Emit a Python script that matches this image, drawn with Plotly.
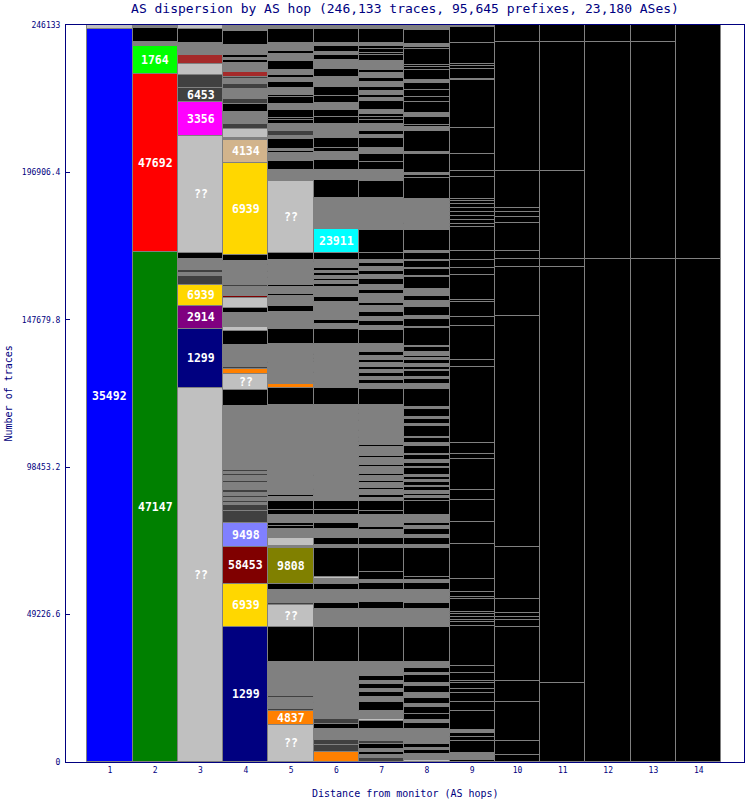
import plotly.graph_objects as go

# ---------------- data ----------------
TITLE = "AS dispersion by AS hop (246,133 traces, 95,645 prefixes, 23,180 ASes)"
X_TITLE = "Distance from monitor (AS hops)"
Y_TITLE = "Number of traces"
TOTAL_TRACES = 246133
Y_TICK_VALUES = [0, 49226.6, 98453.2, 147679.8, 196906.4, 246133]
Y_TICK_TEXT = ["0", "49226.6", "98453.2", "147679.8", "196906.4", "246133"]
HOPS = list(range(1, 15))

# segments per hop, bottom to top: (traces, AS / class)
# K = no further hop, G = other AS, D = other AS (dark), B = other AS (brown), ?? = unknown
HOP_1 = [(244800, "35492"), (1333, "??")]
HOP_2 = [(170240, "47147"), (59450, "47692"), (9550, "1764"), (1140, "G"), (4680, "K"),
         (500, "47147"), (600, "G")]
HOP_3 = [(124820, "??"), (19900, "1299"), (7680, "2914"), (7010, "6939"), (3010, "D"), (900, "G"),
         (835, "D"), (3740, "G"), (2200, "K"), (38940, "??"), (11360, "3356"), (4680, "6453"),
         (4480, "D"), (3670, "??"), (2870, "B"), (1240, "G"), (570, "D"), (1200, "G"), (1140, "G"),
         (4680, "K"), (1250, "??")]
HOP_4 = [(45190, "1299"), (14260, "6939"), (12460, "58453"), (7820, "9498"), (4210, "D"), (1900, "D"),
         (670, "G"), (770, "D"), (1000, "G"), (700, "D"), (1000, "G"), (1000, "D"), (800, "G"), (500, "D"),
         (800, "G"), (600, "D"), (700, "G"), (500, "D"), (800, "G"), (500, "D"), (700, "G"), (500, "D"),
         (1880, "G"), (19470, "G"), (5580, "K"), (5210, "??"), (1800, "4837"), (600, "D"), (600, "G"),
         (400, "D"), (600, "G"), (400, "D"), (5190, "G"), (4880, "K"), (1340, "??"), (4580, "G"),
         (1770, "K"), (3340, "??"), (470, "58453"), (3100, "G"), (570, "D"), (3100, "G"), (330, "??"),
         (4580, "G"), (2200, "K"), (30830, "6939"), (7450, "4134"), (900, "G"), (3010, "??"), (1440, "D"),
         (4140, "G"), (2540, "K"), (1670, "D"), (900, "G"), (330, "??"), (2100, "G"), (1670, "D"),
         (330, "G"), (330, "??"), (1240, "G"), (570, "D"), (1770, "B"), (3000, "G"), (1000, "K"),
         (670, "G"), (1000, "K"), (670, "G"), (230, "??"), (1200, "G"), (1140, "G"), (4680, "K"),
         (1500, "G")]
HOP_5 = [(12460, "??"), (4680, "4837"), (600, "D"), (900, "G"), (500, "D"), (800, "G"), (600, "D"),
         (900, "G"), (500, "D"), (1000, "G"), (400, "D"), (2050, "G"), (8110, "G"), (11690, "K"),
         (7350, "??"), (400, "D"), (4510, "G"), (2000, "K"), (12120, "9808"), (570, "G"), (2770, "??"),
         (2800, "G"), (1100, "K"), (900, "K"), (2770, "G"), (1670, "K"), (3100, "K"), (1400, "G"),
         (400, "K"), (4800, "G"), (330, "D"), (25050, "G"), (5580, "K"), (1500, "4837"), (300, "G"),
         (1440, "G"), (330, "D"), (1340, "G"), (330, "D"), (3340, "G"), (330, "K"), (5910, "G"),
         (4880, "K"), (5910, "G"), (1770, "K"), (400, "58453"), (3170, "G"), (500, "K"), (330, "9808"),
         (2170, "G"), (500, "K"), (2500, "G"), (330, "K"), (1670, "G"), (330, "K"), (1770, "G"),
         (330, "K"), (1470, "G"), (2200, "K"), (24150, "??"), (3570, "G"), (3100, "K"), (2670, "G"),
         (670, "K"), (770, "G"), (3340, "K"), (900, "G"), (1670, "D"), (2240, "G"), (1440, "K"),
         (770, "K"), (2470, "K"), (2200, "G"), (2240, "K"), (670, "K"), (2440, "G"), (1900, "K"),
         (1340, "G"), (900, "K"), (1770, "G"), (3000, "K"), (2240, "G"), (1100, "K"), (1440, "G"),
         (1140, "G"), (4680, "K"), (1500, "G")]
HOP_6 = [(3440, "4837"), (2240, "D"), (1670, "D"), (3570, "G"), (1670, "K"), (1670, "D"), (430, "G"),
         (430, "??"), (2570, "G"), (330, "D"), (1670, "G"), (330, "D"), (1670, "G"), (330, "D"),
         (1100, "G"), (10350, "G"), (11690, "K"), (1670, "G"), (4240, "G"), (1900, "K"), (4440, "G"),
         (2000, "K"), (1670, "G"), (670, "??"), (9790, "K"), (900, "G"), (2340, "K"), (2900, "G"),
         (2000, "K"), (2770, "G"), (1670, "K"), (3100, "K"), (1900, "G"), (330, "K"), (1500, "G"),
         (330, "K"), (4170, "G"), (330, "K"), (23380, "G"), (5580, "K"), (2200, "G"), (330, "K"),
         (2570, "G"), (430, "K"), (3240, "G"), (330, "K"), (770, "G"), (470, "K"), (770, "G"), (330, "K"),
         (3570, "G"), (4880, "K"), (1570, "G"), (1570, "K"), (4780, "G"), (330, "9808"), (670, "G"),
         (1770, "K"), (3340, "G"), (900, "K"), (1000, "G"), (670, "K"), (1000, "G"), (1000, "K"),
         (670, "G"), (1000, "K"), (2000, "G"), (430, "K"), (470, "G"), (2340, "K"), (7780, "23911"),
         (10450, "G"), (5910, "K"), (3570, "G"), (3100, "K"), (2670, "G"), (1440, "K"), (3340, "K"),
         (1240, "G"), (330, "??"), (3240, "G"), (2100, "K"), (2570, "K"), (2200, "G"), (2240, "K"),
         (3100, "K"), (3240, "G"), (2670, "K"), (3000, "G"), (1670, "K"), (1000, "G"), (2100, "K"),
         (1140, "G"), (4680, "K"), (1500, "G")]
HOP_7 = [(1300, "D"), (1000, "G"), (1000, "K"), (1000, "G"), (1700, "K"), (1000, "D"), (4000, "G"),
         (2700, "K"), (500, "??"), (3000, "G"), (2700, "K"), (1700, "G"), (1700, "K"), (1000, "G"),
         (1700, "K"), (1000, "G"), (1700, "K"), (1000, "G"), (3700, "G"), (11690, "K"), (1670, "G"),
         (4240, "G"), (2440, "K"), (3900, "G"), (2340, "K"), (1000, "G"), (2670, "K"), (8110, "K"),
         (900, "G"), (2340, "K"), (2900, "G"), (770, "K"), (1240, "G"), (2770, "G"), (1340, "K"),
         (3440, "K"), (1100, "G"), (780, "K"), (1670, "G"), (890, "K"), (1560, "G"), (670, "K"),
         (1560, "G"), (670, "K"), (2450, "G"), (560, "K"), (2560, "G"), (450, "K"), (3120, "G"),
         (560, "K"), (1000, "G"), (450, "K"), (1000, "G"), (330, "K"), (1890, "G"), (330, "K"),
         (3120, "G"), (450, "K"), (2000, "G"), (330, "K"), (1000, "G"), (330, "K"), (1110, "G"),
         (5560, "K"), (1670, "G"), (1340, "K"), (780, "G"), (1340, "K"), (1110, "G"), (1000, "K"),
         (1340, "G"), (900, "K"), (1340, "G"), (1340, "K"), (2700, "G"), (4880, "K"), (1340, "G"),
         (1560, "K"), (1340, "G"), (1560, "K"), (2000, "G"), (1000, "K"), (3100, "G"), (1340, "K"),
         (1780, "G"), (2000, "K"), (1330, "G"), (1340, "K"), (1330, "G"), (1340, "K"), (1000, "G"),
         (2240, "K"), (7780, "K"), (10450, "G"), (5910, "K"), (3570, "G"), (2670, "K"), (2670, "K"),
         (1870, "G"), (3340, "K"), (1240, "G"), (1340, "K"), (2240, "G"), (1440, "K"), (1000, "K"),
         (1000, "K"), (1340, "G"), (3000, "K"), (1000, "G"), (1000, "K"), (1340, "G"), (1100, "K"),
         (1900, "G"), (1340, "K"), (1670, "G"), (1000, "K"), (3000, "G"), (2000, "K"), (670, "K"),
         (1340, "K"), (770, "K"), (1140, "G"), (4680, "K"), (1500, "G")]
HOP_8 = [(670, "??"), (2000, "G"), (1340, "K"), (670, "G"), (1340, "K"), (1000, "G"), (3900, "G"),
         (2000, "K"), (1000, "G"), (2000, "K"), (2340, "K"), (1000, "G"), (2000, "K"), (1670, "G"),
         (2340, "K"), (1000, "G"), (2670, "K"), (670, "G"), (1670, "K"), (2200, "G"), (11690, "K"),
         (1670, "G"), (4240, "G"), (1900, "K"), (4440, "G"), (2340, "K"), (1000, "G"), (1000, "K"),
         (9770, "K"), (900, "G"), (2340, "K"), (1000, "G"), (1900, "K"), (1000, "G"), (1000, "K"),
         (2770, "G"), (4770, "K"), (890, "K"), (780, "G"), (780, "K"), (890, "G"), (1340, "K"),
         (330, "G"), (1450, "K"), (450, "G"), (1110, "K"), (670, "G"), (2230, "K"), (450, "G"),
         (1220, "K"), (1110, "G"), (1670, "K"), (450, "G"), (2560, "K"), (1110, "G"), (1450, "K"),
         (450, "G"), (3670, "K"), (560, "G"), (1670, "K"), (780, "G"), (2560, "K"), (560, "G"),
         (6120, "K"), (1670, "G"), (1670, "K"), (780, "G"), (1780, "K"), (450, "G"), (890, "K"),
         (1110, "G"), (1340, "K"), (670, "G"), (780, "K"), (1110, "G"), (1670, "K"), (560, "G"),
         (5900, "K"), (450, "G"), (2560, "K"), (1110, "G"), (3000, "K"), (2000, "G"), (1670, "K"),
         (2230, "G"), (3900, "K"), (560, "G"), (2230, "K"), (330, "G"), (2230, "K"), (450, "G"),
         (2230, "K"), (780, "G"), (7000, "K"), (1890, "G"), (560, "K"), (7790, "G"), (7230, "K"),
         (890, "K"), (780, "G"), (6120, "K"), (780, "G"), (7000, "K"), (1340, "G"), (670, "K"),
         (2670, "K"), (1450, "G"), (3560, "K"), (1670, "K"), (2230, "K"), (2560, "K"), (780, "G"),
         (3450, "K"), (220, "G"), (890, "K"), (780, "K"), (5340, "K"), (560, "K"), (1110, "G"),
         (4680, "K"), (1550, "G")]
HOP_9 = [(670, "K"), (2230, "G"), (4000, "K"), (1340, "K"), (1560, "K"), (890, "G"), (6450, "K"),
         (2780, "K"), (3230, "K"), (1110, "K"), (2000, "K"), (890, "K"), (2450, "K"), (2450, "K"),
         (13350, "K"), (1220, "K"), (780, "K"), (1110, "K"), (890, "K"), (780, "K"), (4120, "K"),
         (890, "K"), (1450, "K"), (4340, "K"), (11680, "K"), (7340, "K"), (7450, "K"), (3340, "K"),
         (10240, "K"), (2000, "K"), (3670, "K"), (25230, "K"), (2240, "K"), (11350, "K"), (3240, "K"),
         (4870, "K"), (780, "K"), (8110, "K"), (2570, "K"), (2670, "K"), (2770, "K"), (8110, "K"),
         (1110, "K"), (1110, "K"), (1340, "K"), (1440, "K"), (1440, "K"), (1110, "K"), (1110, "K"),
         (780, "K"), (7450, "K"), (1780, "K"), (5810, "K"), (8680, "K"), (15800, "K"), (560, "K"),
         (3340, "K"), (890, "K"), (780, "K"), (7010, "K"), (5440, "K"), (600, "G")]
HOP_10 = [(2240, "K"), (4680, "K"), (13030, "K"), (7210, "K"), (18040, "K"), (2240, "K"), (900, "K"),
          (1340, "K"), (4680, "K"), (17370, "K"), (77150, "K"), (16370, "K"), (2670, "K"), (2770, "K"),
          (9250, "K"), (2000, "K"), (1670, "K"), (1340, "K"), (12560, "K"), (42890, "K"), (5950, "K")]
HOP_11 = [(26290, "K"), (138950, "K"), (2670, "K"), (29590, "K"), (42890, "K"), (5950, "K")]
HOP_12 = [(167900, "K"), (72480, "K"), (5950, "K")]
HOP_13 = [(167900, "K"), (72480, "K"), (5950, "K")]
HOP_14 = [(167900, "K"), (78430, "K")]

HOP_SEGMENTS = [HOP_1, HOP_2, HOP_3, HOP_4, HOP_5, HOP_6, HOP_7,
                HOP_8, HOP_9, HOP_10, HOP_11, HOP_12, HOP_13, HOP_14]

# ---------------- styles ----------------
AS_COLORS = {
    "35492": "#0000ff", "47147": "#008000", "47692": "#ff0000", "1764": "#00ff00",
    "??": "#c0c0c0", "1299": "#000080", "2914": "#800080", "6939": "#ffd700",
    "3356": "#ff00ff", "6453": "#404040", "4134": "#d2b48c", "9498": "#8080ff",
    "58453": "#800000", "9808": "#808000", "4837": "#ff8000", "23911": "#00ffff",
    "K": "#000000", "G": "#808080", "D": "#404040", "B": "#a52a2a",
}
UNLABELED = {"K", "G", "D", "B"}
LABEL_MIN = 4500
NAVY = "#000080"
MONO = "DejaVu Sans Mono"

xs, ys, bases, colors = [], [], [], []
annotations = []
for hop, segs in zip(HOPS, HOP_SEGMENTS):
    base = 0
    for size, code in segs:
        xs.append(hop)
        ys.append(size)
        bases.append(base)
        colors.append(AS_COLORS[code])
        if code not in UNLABELED and size >= LABEL_MIN:
            annotations.append(dict(
                x=hop, y=base + size / 2, xref="x", yref="y", text="<b>%s</b>" % code,
                showarrow=False, font=dict(family=MONO, size=11.5, color="white"),
                xanchor="center", yanchor="middle"))
        base += size

fig = go.Figure(go.Bar(
    x=xs, y=ys, base=bases, width=1,
    marker=dict(color=colors, line=dict(color="#808080", width=1)),
    hoverinfo="skip", showlegend=False,
))

annotations.append(dict(text=X_TITLE, xref="paper", yref="paper", x=0.5, y=0,
                        xanchor="center", yanchor="middle", yshift=-31, showarrow=False,
                        font=dict(family=MONO, size=10, color=NAVY)))
annotations.append(dict(text=Y_TITLE, xref="paper", yref="paper", x=0, y=0.5,
                        xanchor="center", yanchor="middle", xshift=-58, textangle=-90,
                        showarrow=False, font=dict(family=MONO, size=10, color=NAVY)))

fig.update_layout(
    width=745, height=800,
    margin=dict(l=66, r=1, t=25, b=38),
    paper_bgcolor="white", plot_bgcolor="white",
    barmode="overlay", bargap=0,
    title=dict(text=TITLE, x=0.5, xref="paper", xanchor="center",
               y=1 - 8.5 / 800, yref="container", yanchor="middle",
               font=dict(family=MONO, size=13, color=NAVY)),
    xaxis=dict(range=[0.03, 15], tickvals=HOPS, ticktext=[str(h) for h in HOPS],
               ticks="", showline=True, mirror=True, linecolor=NAVY, linewidth=1,
               showgrid=False, zeroline=False, fixedrange=True,
               tickfont=dict(family=MONO, size=8, color=NAVY)),
    yaxis=dict(range=[0, TOTAL_TRACES], tickvals=Y_TICK_VALUES, ticktext=Y_TICK_TEXT,
               ticks="inside", ticklen=4, tickcolor=NAVY, showline=True, mirror=True,
               linecolor=NAVY, linewidth=1, showgrid=False, zeroline=False, fixedrange=True,
               ticklabelstandoff=3,
               tickfont=dict(family=MONO, size=8, color=NAVY)),
    annotations=annotations,
)

fig.write_html(
    "out.html",
    config={"displayModeBar": False},
    post_script="document.body.style.margin='0';document.body.style.overflow='hidden';",
)
